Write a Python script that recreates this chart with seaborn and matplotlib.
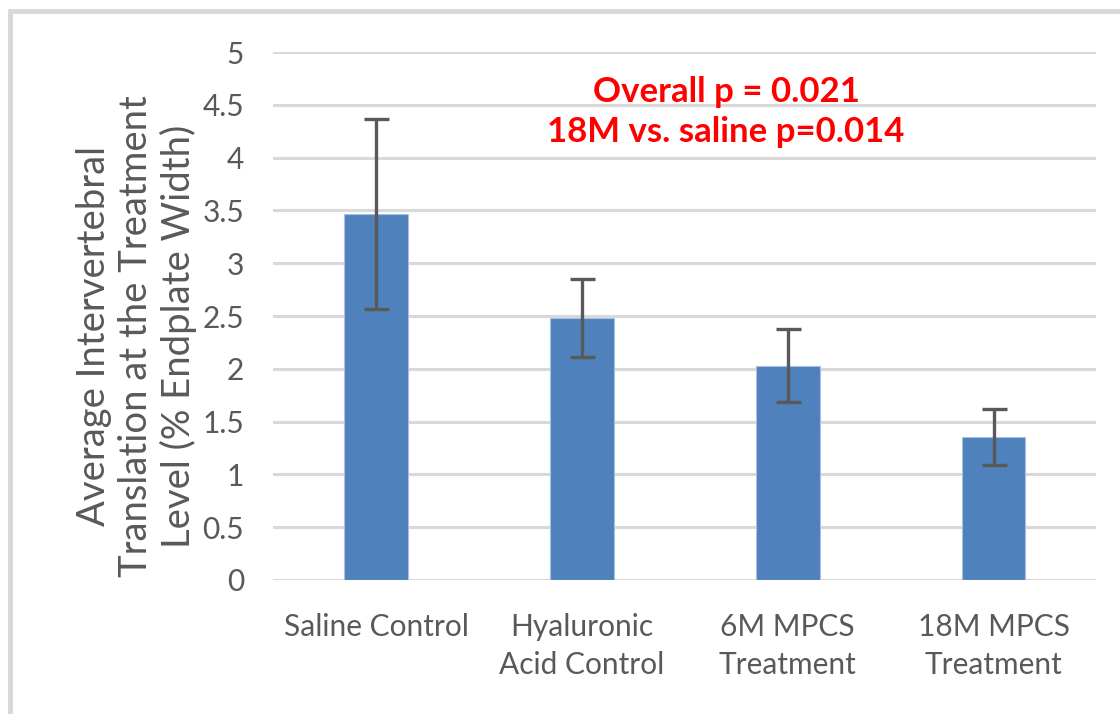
import matplotlib
matplotlib.use("Agg")
import matplotlib.pyplot as plt
import seaborn as sns
import pandas as pd
from matplotlib.patches import Rectangle

categories = ["Saline Control", "Hyaluronic\nAcid Control", "6M MPCS\nTreatment", "18M MPCS\nTreatment"]
means = [3.47, 2.48, 2.03, 1.35]
errors = [0.90, 0.37, 0.345, 0.265]
yticks = [0, 0.5, 1, 1.5, 2, 2.5, 3, 3.5, 4, 4.5, 5]
ytick_labels = ["0", "0.5", "1", "1.5", "2", "2.5", "3", "3.5", "4", "4.5", "5"]
ylabel = "Average Intervertebral\nTranslation at the Treatment\nLevel (% Endplate Width)"
annotation = "Overall p = 0.021\n18M vs. saline p=0.014"

sns.set_theme(style="white")
plt.rcParams['font.family'] = ['Lato', 'DejaVu Sans']

df = pd.DataFrame({"group": categories, "value": means})

fig = plt.figure(figsize=(11.2, 7.14), dpi=100)
ax = fig.add_axes([0.244, 0.1877, 0.735, 0.7393])

sns.barplot(data=df, x="group", y="value", color="#4F81BD", saturation=1,
            width=0.31, errorbar=None, ax=ax, edgecolor="#A9C1E0", linewidth=0.8, zorder=3)
ax.errorbar(range(len(means)), means, yerr=errors, fmt="none", ecolor="#595959",
            elinewidth=2.4, capsize=9, capthick=2.4, zorder=4)

ax.set_ylim(0, 5)
ax.set_xlim(-0.5, len(categories) - 0.5)
ax.set_yticks(yticks)
ax.set_yticklabels(ytick_labels)
ax.yaxis.grid(True, color="#D9D9D9", linewidth=2.2, zorder=0)
ax.set_axisbelow(True)
for s in ax.spines.values():
    s.set_visible(False)
ax.tick_params(axis="both", length=0, colors="#595959", labelsize=21.5)
ax.tick_params(axis="y", pad=21)
ax.tick_params(axis="x", pad=24)
for lbl in ax.get_xticklabels():
    lbl.set_linespacing(1.4)
ax.set_xlabel("")
ax.set_ylabel(ylabel, fontsize=27.5, color="#595959", linespacing=1.2, labelpad=4)
ax.yaxis.label.set_y(0.462)

ax.text(1.70, 4.43, annotation, ha="center", va="center", color="#FF0000",
        fontsize=25, fontweight="bold", linespacing=1.3, zorder=5)

fig.patches.append(Rectangle((0.009, -0.1), 1.2, 1.085, transform=fig.transFigure,
                             fill=False, edgecolor="#D9D9D9", linewidth=3.5))

fig.savefig("out.png", dpi=100)
